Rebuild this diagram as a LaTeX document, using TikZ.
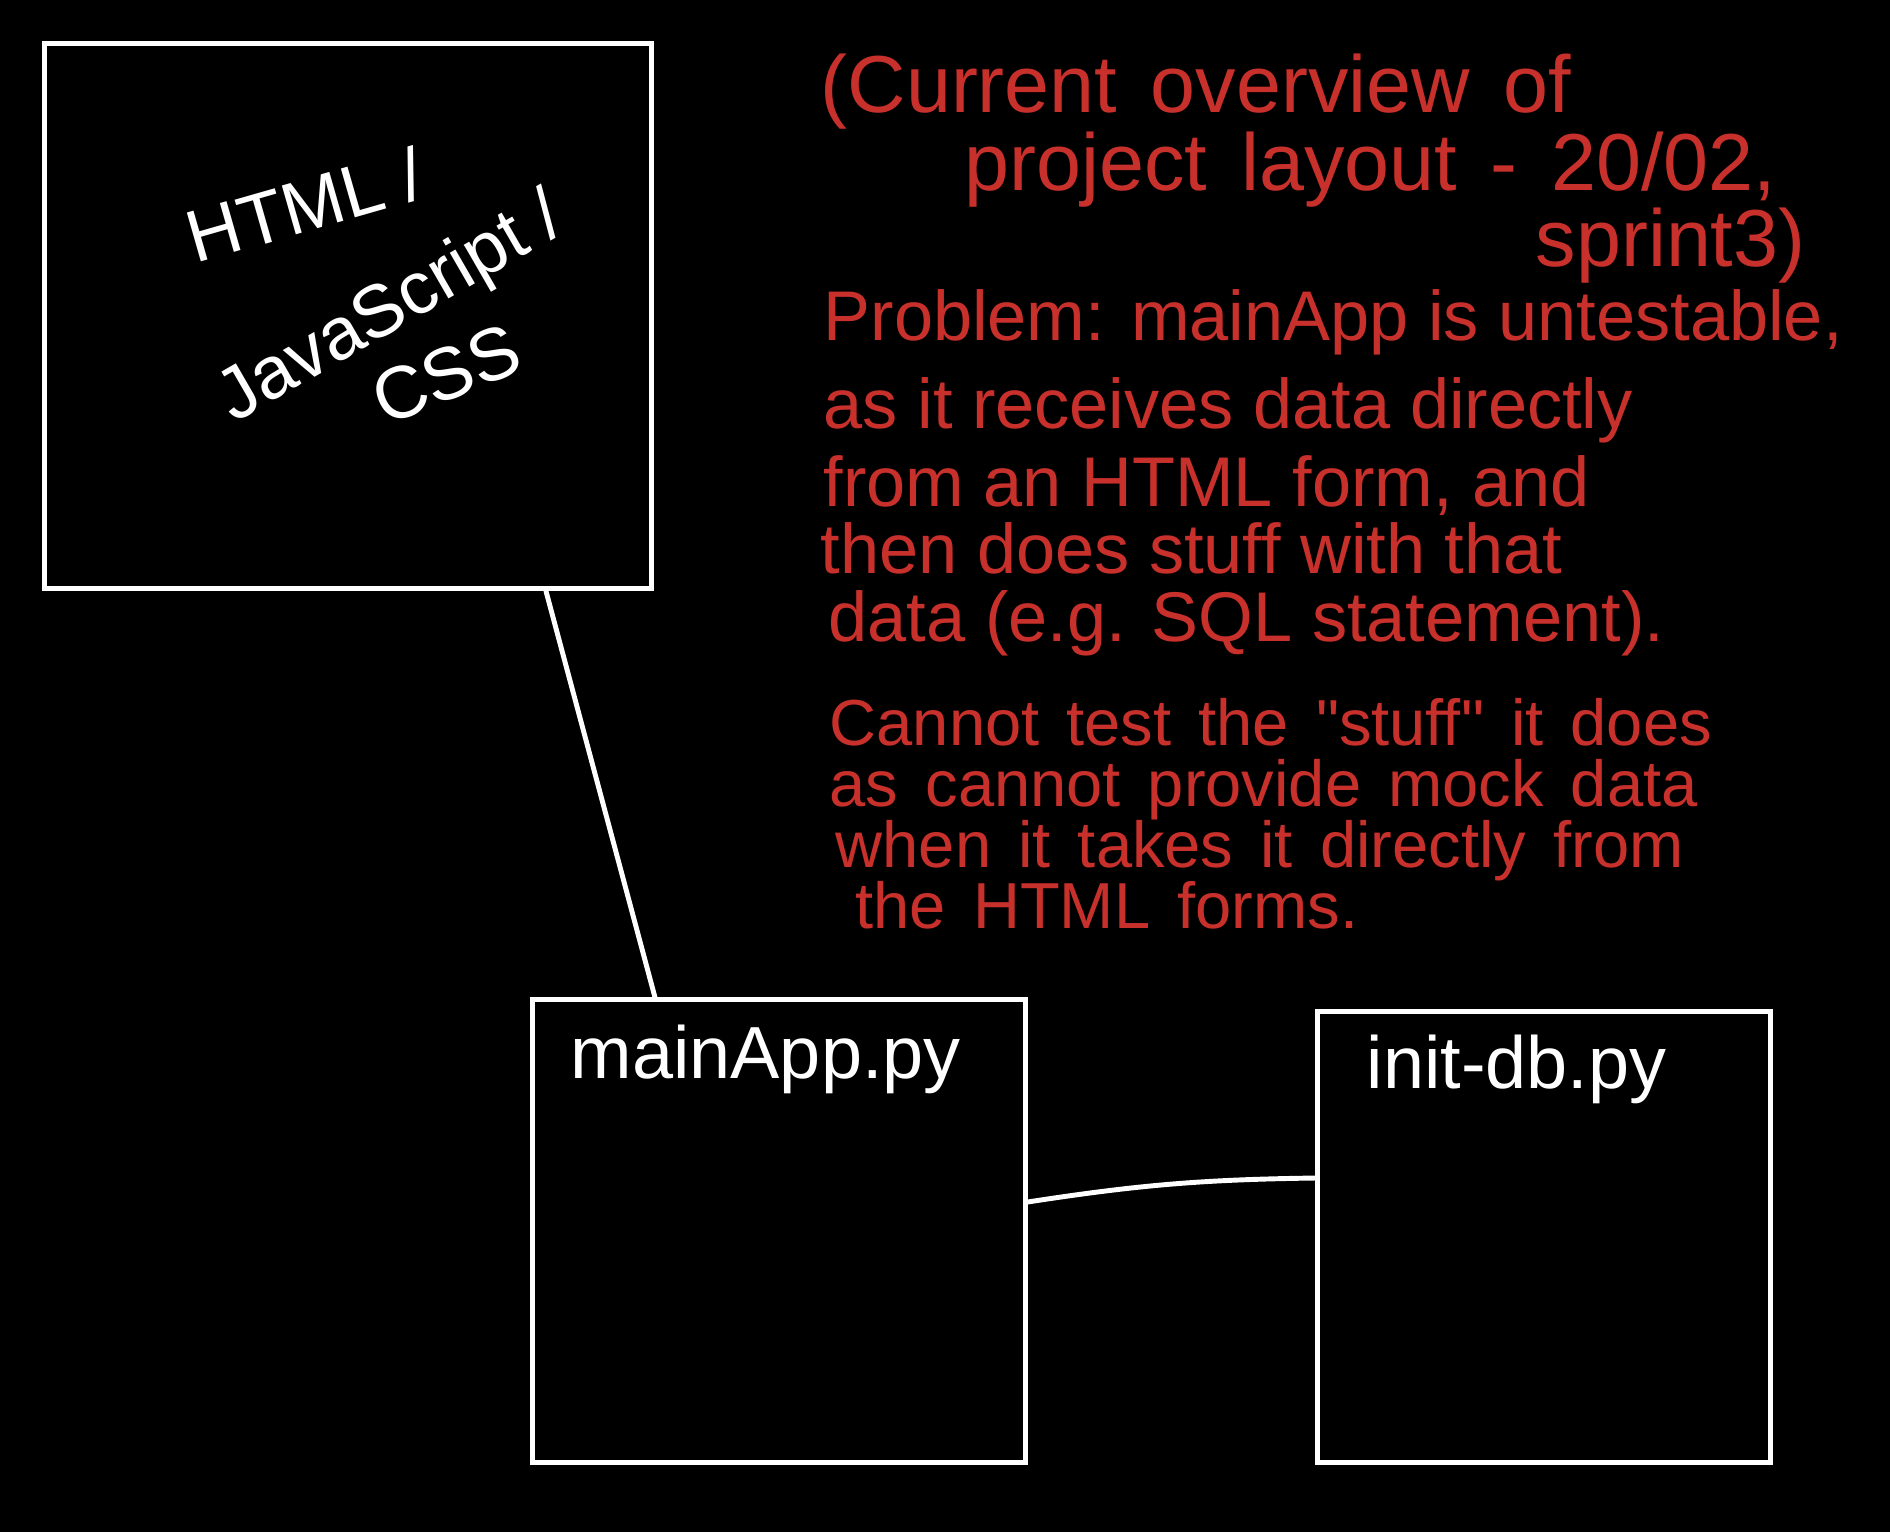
\documentclass[tikz,border=0pt]{standalone}
\usepackage{fontspec}
\setmainfont{Liberation Sans}
\newfontfamily\penfont[WordSpace=1.5]{Liberation Sans}
\definecolor{penred}{HTML}{C8302C}

\begin{document}
\begin{tikzpicture}[x=0.01cm,y=-0.01cm]
    \fill[black] (0,0) rectangle (1890,1532);

    \begin{scope}[every node/.style={draw=white,line width=1.4pt,inner sep=0pt}]
      \node[minimum width=6.06cm,minimum height=5.45cm] (web) at (348,316) {};
      \node[minimum width=4.92cm,minimum height=4.62cm] (mainapp) at (779,1231) {};
      \node[minimum width=4.52cm,minimum height=4.50cm] (initdb) at (1544,1237) {};
    \end{scope}

    \begin{scope}[every node/.style={text=white,inner sep=0pt,font=\fontsize{21}{25}\selectfont}]
      \node[rotate=16] (webhtml) at (305,205) {HTML /};
      \node[rotate=30] (webjs) at (392,310) {JavaScript /};
      \node[rotate=22] (webcss) at (446,374) {CSS};
      \node[anchor=north west] (mainappname) at (570,1024) {mainApp.py};
      \node[anchor=north west] (initdbname) at (1366,1034) {init-db.py};
    \end{scope}

    \begin{scope}[every node/.style={text=penred,anchor=base west,inner sep=0pt,font=\penfont\fontsize{23}{27}\selectfont}]
      \node (title1) at (820,112) {(Current overview of};
      \node (title2) at (964,190) {project layout - 20/02,};
      \node (title3) at (1535,266) {sprint3)};
    \end{scope}

    \begin{scope}[every node/.style={text=penred,anchor=base west,inner sep=0pt,font=\fontsize{20}{24}\selectfont}]
      \node (problem1) at (823,340) {Problem: mainApp is untestable,};
      \node (problem2) at (823,428) {as it receives data directly};
      \node (problem3) at (823,506) {from an HTML form, and};
      \node (problem4) at (820,573) {then does stuff with that};
      \node (problem5) at (828,641) {data (e.g. SQL statement).};
    \end{scope}

    \begin{scope}[every node/.style={text=penred,anchor=base west,inner sep=0pt,font=\penfont\fontsize{18.5}{22}\selectfont}]
      \node (cannot1) at (829,745) {Cannot test the \char34 stuff\char34\ it does};
      \node (cannot2) at (829,806) {as cannot provide mock data};
      \node (cannot3) at (835,867) {when it takes it directly from};
      \node (cannot4) at (855,928) {the HTML forms.};
    \end{scope}

    \begin{scope}[every edge/.style={draw=white,line width=1.4pt,line cap=round}]
      \path (web.south -| 546,0) edge (mainapp.north -| 655,0);
      \path (mainapp.east |- 0,1202) edge[bend left=4] (initdb.west |- 0,1178);
    \end{scope}
\end{tikzpicture}
\end{document}
